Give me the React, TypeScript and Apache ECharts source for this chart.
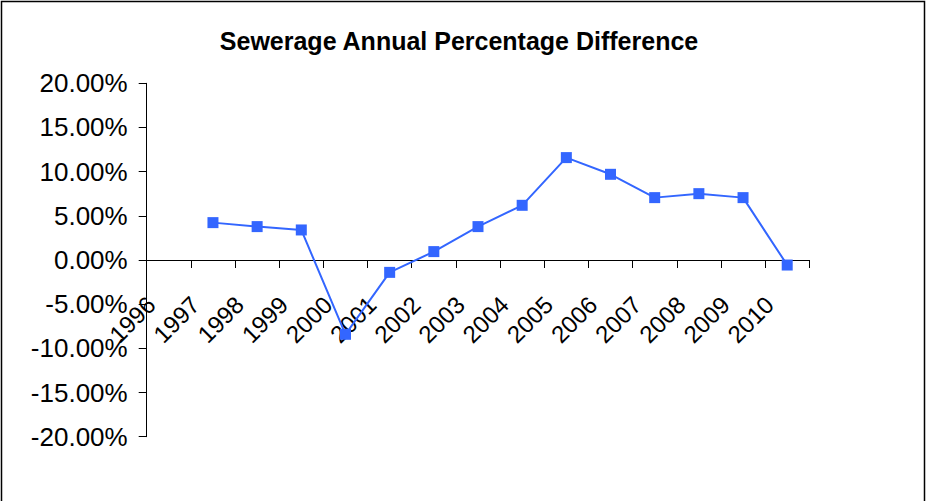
import React, { useEffect, useRef } from "react";
import * as echarts from "echarts";

const titleText = "Sewerage Annual Percentage Difference";
const years = ["1996", "1997", "1998", "1999", "2000", "2001", "2002", "2003", "2004", "2005", "2006", "2007", "2008", "2009", "2010"];
const pctDiff: (number | null)[] = [null, 4.23, 3.78, 3.4, -8.41, -1.4, 0.95, 3.78, 6.19, 11.59, 9.7, 7.06, 7.51, 7.06, -0.57];
const yMin = -20;
const yMax = 20;
const yStep = 5;

const FONT = "'Liberation Sans', Arial, Helvetica, sans-serif";
const BLUE = "#3366FF";

const GRID_TOP = 83.3;
const GRID_BOTTOM = 64.3;
const CHART_H = 501;

export default function App() {
  const ref = useRef<HTMLDivElement>(null);
  useEffect(() => {
    document.body.style.margin = "0";
    if (!ref.current) return;
    const chart = echarts.init(ref.current, null, { renderer: "svg" });
    const gridH = CHART_H - GRID_TOP - GRID_BOTTOM;
    const zeroOffset = -gridH * (0 - yMin) / (yMax - yMin);
    chart.setOption({
      animation: false,
      backgroundColor: "#ffffff",
      title: {
        text: titleText,
        left: 454,
        top: 23,
        textAlign: "center",
        textStyle: { fontFamily: FONT, fontSize: 25, fontWeight: "bold", color: "#000" },
      },
      graphic: [
        {
          type: "rect",
          shape: { x: 1.5, y: 1.5, width: 923, height: 600 },
          style: { fill: "none", stroke: "#000", lineWidth: 1.5 },
          silent: true,
        },
      ],
      grid: {
        left: 146.7,
        right: 124.7,
        top: GRID_TOP,
        bottom: GRID_BOTTOM,
        containLabel: false,
        outerBoundsMode: "none",
      },
      xAxis: {
        type: "category",
        data: years,
        boundaryGap: true,
        position: "bottom",
        offset: zeroOffset,
        axisLine: { onZero: false, lineStyle: { color: "#000", width: 1 } },
        axisTick: { show: true, length: 8, inside: false, lineStyle: { color: "#000" } },
        axisLabel: {
          interval: 0,
          rotate: 45,
          margin: 23,
          padding: [0, 25, 0, 0],
          fontFamily: FONT,
          fontSize: 24,
          color: "#000",
          hideOverlap: false,
        },
        splitLine: { show: false },
      },
      yAxis: {
        type: "value",
        min: yMin,
        max: yMax,
        interval: yStep,
        axisLine: { show: true, lineStyle: { color: "#000", width: 1 } },
        axisTick: { show: true, length: 8, lineStyle: { color: "#000" } },
        axisLabel: {
          margin: 19,
          fontFamily: FONT,
          fontSize: 26,
          color: "#000",
          formatter: (v: number) => v.toFixed(2) + "%",
        },
        splitLine: { show: false },
      },
      series: [
        {
          type: "line",
          data: pctDiff,
          connectNulls: false,
          symbol: "rect",
          symbolSize: 11,
          showSymbol: true,
          lineStyle: { color: BLUE, width: 2 },
          itemStyle: { color: BLUE },
        },
      ],
    });
    return () => chart.dispose();
  }, []);
  return <div ref={ref} style={{ position: "absolute", left: 0, top: 0, width: 934, height: 501 }} />;
}
